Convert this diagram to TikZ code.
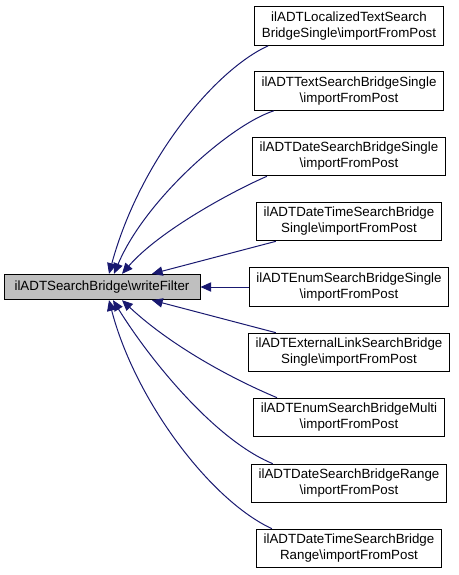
\documentclass[tikz,border=0pt]{standalone}
\usepackage{fontspec}
\setmainfont{Liberation Sans}
\usetikzlibrary{calc, positioning}
\usetikzlibrary{arrows.meta}
\definecolor{edgeblue}{RGB}{25,25,112}
\definecolor{maingray}{RGB}{191,191,191}

\begin{document}
\begin{tikzpicture}[x=0.75pt, y=-0.75pt,
  font=\fontsize{10pt}{12pt}\selectfont,
  callbox/.style={draw=black, fill=white, line width=0.75pt, align=center, inner xsep=5.5pt, minimum height=29pt},
  mainbox/.style={draw=black, fill=maingray, line width=0.75pt, minimum width=147pt, minimum height=19pt},
  edge/.style={edgeblue, line width=0.75pt, -{Triangle[length=8pt, width=7pt]}}]
\useasboundingbox (0,0) rectangle (459,575);
\def\cx{349}
\def\bs{\textbackslash}

\node[mainbox] (main) at (102,287) {ilADTSearchBridge\bs writeFilter};

\node[callbox] (locTextSingle) at (\cx,26) {ilADTLocalizedTextSearch\\BridgeSingle\bs importFromPost};
\node[callbox] (textSingle) at (\cx,91) {ilADTTextSearchBridgeSingle\\\bs importFromPost};
\node[callbox] (dateSingle) at (\cx,156.5) {ilADTDateSearchBridgeSingle\\\bs importFromPost};
\node[callbox] (dateTimeSingle) at (\cx,221.5) {ilADTDateTimeSearchBridge\\Single\bs importFromPost};
\node[callbox] (enumSingle) at (\cx,287) {ilADTEnumSearchBridgeSingle\\\bs importFromPost};
\node[callbox] (extLinkSingle) at (\cx,352.5) {ilADTExternalLinkSearchBridge\\Single\bs importFromPost};
\node[callbox] (enumMulti) at (\cx,417.5) {ilADTEnumSearchBridgeMulti\\\bs importFromPost};
\node[callbox] (dateRange) at (\cx,483.5) {ilADTDateSearchBridgeRange\\\bs importFromPost};
\node[callbox] (dateTimeRange) at (\cx,548.5) {ilADTDateTimeSearchBridge\\Range\bs importFromPost};

% callers above
\draw[edge] ($(locTextSingle.south west)+(14,0)$) .. controls (215,70) and (140,160) .. ($(main.north)+(7,0)$);
\draw[edge] ($(textSingle.south west)+(20,0)$) .. controls (230,125) and (145,200) .. ($(main.north)+(12,0)$);
\draw[edge] ($(dateSingle.south west)+(15,0)$) .. controls (235,190) and (160,230) .. ($(main.north)+(20,0)$);
\draw[edge] ($(dateTimeSingle.south west)+(20,0)$) -- ($(main.north)+(50,0)$);

\draw[edge] (enumSingle.west) -- (main.east);

% callers below
\draw[edge] ($(extLinkSingle.north west)+(28,0)$) -- ($(main.south)+(50,0)$);
\draw[edge] ($(enumMulti.north west)+(24,0)$) .. controls (230,378) and (170,345) .. ($(main.south)+(20,0)$);
\draw[edge] ($(dateRange.north west)+(22,0)$) .. controls (215,440) and (150,360) .. ($(main.south)+(11,0)$);
\draw[edge] ($(dateTimeRange.north west)+(16,0)$) .. controls (210,500) and (135,400) .. ($(main.south)+(7,0)$);

\end{tikzpicture}
\end{document}
